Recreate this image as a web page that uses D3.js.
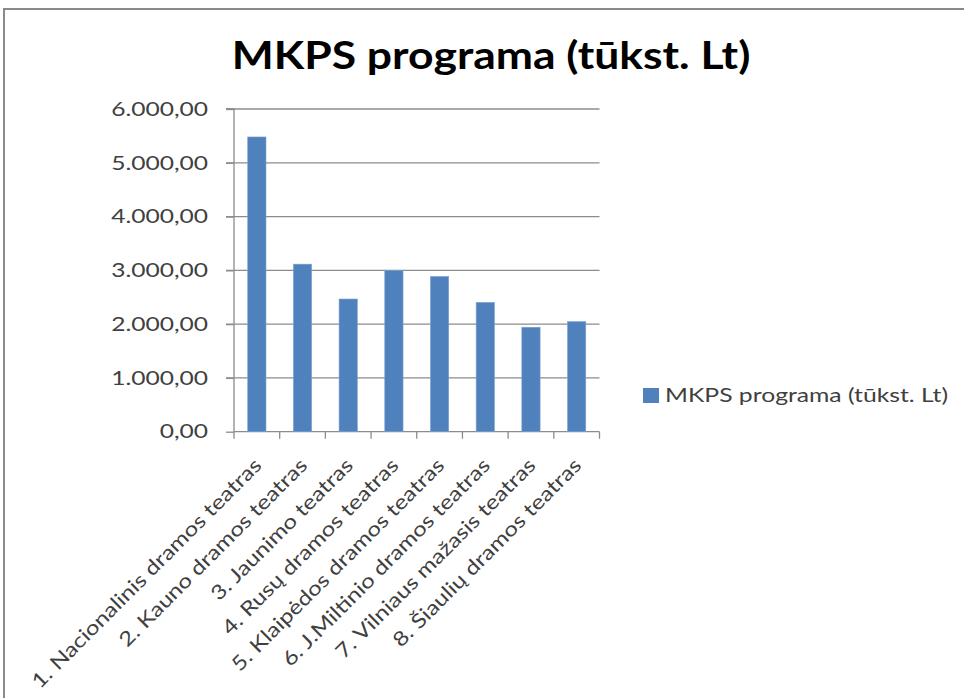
<!DOCTYPE html>
<html><head><meta charset="utf-8">
<script src="https://cdn.jsdelivr.net/npm/d3@7"></script>
<style>html,body{margin:0;padding:0;background:#fff;overflow:hidden}</style>
</head><body>
<svg id="chart" width="964" height="698"></svg>
<script>
const title = "MKPS programa (tūkst. Lt)";
const seriesName = "MKPS programa (tūkst. Lt)";
const categories = [
  "1. Nacionalinis dramos teatras",
  "2. Kauno dramos teatras",
  "3. Jaunimo teatras",
  "4. Rusų dramos teatras",
  "5. Klaipėdos dramos teatras",
  "6. J.Miltinio dramos teatras",
  "7. Vilniaus mažasis teatras",
  "8. Šiaulių dramos teatras"
];
const values = [5480, 3115, 2467, 2996, 2885, 2404, 1942, 2047];
const yTicks = [0, 1000, 2000, 3000, 4000, 5000, 6000];

(function () {
const svg = d3.select("#chart");
const font = "Lato, 'Open Sans', sans-serif";
const textCol = "#404040", gridCol = "#8c8c8c";

function stretch(sel, k) {
  sel.each(function () {
    const L = this.getComputedTextLength();
    d3.select(this).attr("textLength", L * k).attr("lengthAdjust", "spacingAndGlyphs");
  });
}

// frame
svg.append("rect").attr("x", 4).attr("y", 9).attr("width", 980).attr("height", 720)
  .attr("fill", "#fff").attr("stroke", "#8a8a8a").attr("stroke-width", 2);

const pLeft = 234, pRight = 599.5, pTop = 109, pBottom = 431.7;
const x = d3.scaleBand().domain(categories).range([pLeft, pRight]).paddingInner(0.6).paddingOuter(0.3);
const y = d3.scaleLinear().domain([0, 6000]).range([pBottom, pTop]);

// gridlines
svg.append("g").selectAll("line").data(yTicks.filter(d => d > 0)).join("line")
  .attr("x1", pLeft - 8).attr("x2", pRight).attr("y1", d => y(d)).attr("y2", d => y(d))
  .attr("stroke", gridCol).attr("stroke-width", 1.3);

// y axis
const yAxis = d3.axisLeft(y).tickValues(yTicks).tickSize(8).tickPadding(18)
  .tickFormat(d => d3.format(",.2f")(d).replace(/,/g, "#").replace(".", ",").replace(/#/g, "."));
const gy = svg.append("g").attr("transform", `translate(${pLeft},0)`).call(yAxis);
gy.select(".domain").attr("stroke", gridCol).attr("stroke-width", 1.3).attr("d", `M-8,${pTop}H0V${pBottom}`);
gy.selectAll(".tick line").attr("stroke", gridCol).attr("stroke-width", 1.3);
const yt = gy.selectAll("text").attr("font-family", font).attr("font-size", 19.5).attr("fill", textCol);
stretch(yt, 1.26);

// x axis
const band = (pRight - pLeft) / categories.length;
const gx = svg.append("g").attr("transform", `translate(0,${pBottom})`);
gx.append("path").attr("stroke", gridCol).attr("stroke-width", 1.3).attr("fill", "none").attr("d", `M${pLeft},0H${pRight}`);
gx.selectAll("line.sep").data(d3.range(categories.length + 1)).join("line").attr("class", "sep")
  .attr("x1", i => pLeft + i * band).attr("x2", i => pLeft + i * band).attr("y1", 0).attr("y2", 7)
  .attr("stroke", gridCol).attr("stroke-width", 1.3);

// bars
svg.append("g").selectAll("rect").data(values).join("rect")
  .attr("x", (d, i) => x(categories[i])).attr("width", x.bandwidth())
  .attr("y", d => y(d)).attr("height", d => y(0) - y(d))
  .attr("fill", "#4F81BD").attr("stroke", "#7fa2cf").attr("stroke-width", 0.6);

// x labels
const xl = svg.append("g").selectAll("text").data(categories).join("text")
  .attr("transform", d => `translate(${x(d) + x.bandwidth() / 2 + 6},${pBottom + 35}) rotate(-45)`)
  .attr("text-anchor", "end").attr("font-family", font).attr("font-size", 20).attr("fill", textCol)
  .text(d => d);
stretch(xl, 1.2);

// title
const tt = svg.append("text").attr("x", 491).attr("y", 69).attr("text-anchor", "middle")
  .attr("font-family", font).attr("font-weight", "bold").attr("font-size", 38).attr("fill", "#000")
  .text(title);
stretch(tt, 1.17);

// legend
const lg = svg.append("g").attr("transform", "translate(643,388)");
lg.append("rect").attr("width", 16).attr("height", 15).attr("fill", "#4F81BD");
const lt = lg.append("text").attr("x", 22).attr("y", 14).attr("font-family", font).attr("font-size", 19)
  .attr("fill", textCol).text(seriesName);
stretch(lt, 1.3);
})();
</script>
</body></html>
